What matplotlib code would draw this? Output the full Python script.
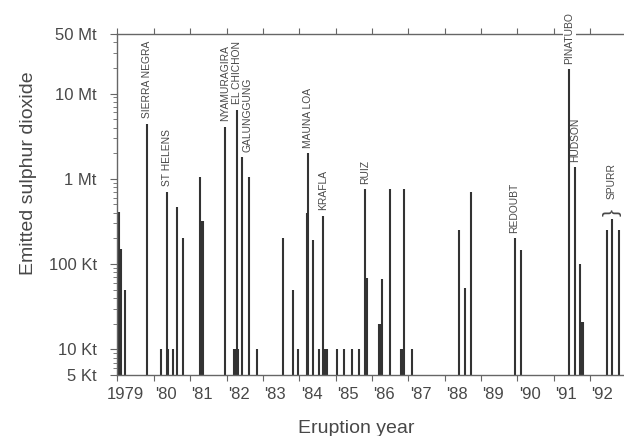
import matplotlib
matplotlib.use('Agg')
import matplotlib.pyplot as plt
from matplotlib.ticker import LogLocator, NullFormatter

plt.rcParams['font.family'] = ['Liberation Sans', 'DejaVu Sans']

# eruption dates (decimal year) and SO2 emitted (tonnes)
years = [1979.05, 1979.11, 1979.21, 1979.81, 1980.20, 1980.35, 1980.40, 1980.52,
         1980.65, 1980.80, 1981.27, 1981.30, 1981.33, 1981.36, 1981.96, 1982.20,
         1982.24, 1982.28, 1982.31, 1982.42, 1982.63, 1982.83, 1983.56, 1983.83,
         1983.96, 1984.20, 1984.23, 1984.37, 1984.55, 1984.66, 1984.72, 1984.75,
         1985.03, 1985.23, 1985.44, 1985.64, 1985.82, 1985.86, 1986.19, 1986.22,
         1986.28, 1986.50, 1986.80, 1986.83, 1986.88, 1987.11, 1988.40, 1988.56,
         1988.72, 1989.92, 1990.09, 1991.43, 1991.59, 1991.72, 1991.77, 1991.80,
         1992.47, 1992.60, 1992.78]
so2 = [4.1e5, 1.5e5, 4.9e4, 4.4e6, 1e4, 7.1e5, 1e4, 1e4,
       4.7e5, 2.0e5, 1.06e6, 3.2e5, 3.2e5, 3.2e5, 4.1e6, 1e4,
       1e4, 6.5e6, 1e4, 1.8e6, 1.06e6, 1e4, 2.0e5, 4.9e4,
       1e4, 4.0e5, 2.0e6, 1.9e5, 1e4, 3.7e5, 1e4, 1e4,
       1e4, 1e4, 1e4, 1e4, 7.5e5, 6.9e4, 2.0e4, 2.0e4,
       6.6e4, 7.5e5, 1e4, 1e4, 7.7e5, 1e4, 2.5e5, 5.2e4,
       7.1e5, 2.0e5, 1.46e5, 1.93e7, 1.36e6, 1.0e5, 2.1e4, 2.1e4,
       2.5e5, 3.4e5, 2.5e5]

# named eruptions -> index of the bar they sit on
names = ['SIERRA NEGRA', 'ST HELENS', 'NYAMURAGIRA', 'EL CHICHON', 'GALUNGGUNG',
         'MAUNA LOA', 'KRAFLA', 'RUIZ', 'REDOUBT', 'PINATUBO', 'HUDSON']
name_idx = [3, 5, 14, 17, 19, 26, 29, 36, 49, 51, 52]
spurr_idx = [56, 57, 58]

tick_years = list(range(1979, 1993))
tick_labels = ['1979'] + ["'%02d" % (y % 100) for y in tick_years[1:]]
ytick_vals = [5e3, 1e4, 1e5, 1e6, 1e7, 5e7]
ytick_labels = ['5 Kt', '10 Kt', '100 Kt', '1 Mt', '10 Mt', '50 Mt']

axis_col = '#666666'
text_col = '#484848'

fig = plt.figure(figsize=(6.24, 4.36), dpi=100)
ax = fig.add_axes([0.1883, 0.140, 0.8117, 0.782])
ax.set_yscale('log')
ax.set_ylim(5e3, 5e7)
ax.set_xlim(1979, 1992.93)

ax.vlines(years, 5e3, so2, color='#333333', lw=1.5)

for s in ['left', 'bottom', 'top']:
    ax.spines[s].set_color(axis_col)
    ax.spines[s].set_linewidth(1.0)
ax.spines['right'].set_visible(False)

ax.set_yticks(ytick_vals)
ax.set_yticklabels(ytick_labels)
ax.yaxis.set_minor_locator(LogLocator(base=10, subs=range(2, 10)))
ax.yaxis.set_minor_formatter(NullFormatter())
ax.tick_params(axis='y', which='major', length=5, width=0.8, color=axis_col,
               labelsize=12, labelcolor=text_col, pad=10)
ax.tick_params(axis='y', which='minor', length=3, width=0.6, color=axis_col)

ax.set_xticks(tick_years)
ax.set_xticklabels([])
ax.tick_params(axis='x', which='both', top=True, bottom=True, direction='out',
               length=4, width=0.8, color=axis_col)
for y, lab in zip(tick_years, tick_labels):
    ax.annotate(lab, xy=(y, 0), xycoords=ax.get_xaxis_transform(),
                xytext=(1 if y > 1979 else -8, -9), textcoords='offset points',
                ha='left', va='top', fontsize=12, color=text_col)

for nm, i in zip(names, name_idx):
    dx = 4 if nm == 'GALUNGGUNG' else 0
    bb = dict(facecolor='white', edgecolor='none', pad=1.0) if nm == 'PINATUBO' else None
    ax.annotate(nm, xy=(years[i], so2[i]), xytext=(dx, 4), textcoords='offset points',
                rotation=90, ha='center', va='bottom', fontsize=7.4, color=text_col,
                bbox=bb, zorder=5, annotation_clip=False)

sp_x = years[spurr_idx[1]]
sp_top = max(so2[i] for i in spurr_idx)
ax.annotate('}', xy=(sp_x, sp_top), xytext=(0, 2), textcoords='offset points',
            rotation=90, ha='center', va='bottom', fontsize=15, fontweight='light',
            color=text_col)
ax.annotate('SPURR', xy=(sp_x, sp_top), xytext=(0, 14), textcoords='offset points',
            rotation=90, ha='center', va='bottom', fontsize=7.4, color=text_col)

fig.text(0.045, 0.602, 'Emitted sulphur dioxide', rotation=90, ha='center',
         va='center', fontsize=14, color=text_col)
fig.text(0.5705, 0.018, 'Eruption year', ha='center', va='center',
         fontsize=14, color=text_col)

fig.savefig('out.png', dpi=100)
